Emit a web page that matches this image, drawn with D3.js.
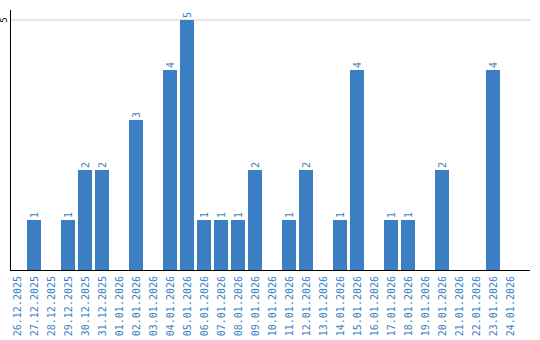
<!DOCTYPE html>
<html>
<head>
<meta charset="utf-8">
<script src="https://cdn.jsdelivr.net/npm/d3@7"></script>
<style>
  body { margin: 0; background: #fff; }
  text { font-family: "DejaVu Sans Mono", monospace; }
</style>
</head>
<body>
<div id="chart"></div>
<script>
var dates = ["26.12.2025", "27.12.2025", "28.12.2025", "29.12.2025", "30.12.2025", "31.12.2025",
  "01.01.2026", "02.01.2026", "03.01.2026", "04.01.2026", "05.01.2026", "06.01.2026",
  "07.01.2026", "08.01.2026", "09.01.2026", "10.01.2026", "11.01.2026", "12.01.2026",
  "13.01.2026", "14.01.2026", "15.01.2026", "16.01.2026", "17.01.2026", "18.01.2026",
  "19.01.2026", "20.01.2026", "21.01.2026", "22.01.2026", "23.01.2026", "24.01.2026"];
var counts = [0, 1, 0, 1, 2, 2, 0, 3, 0, 4, 5, 1, 1, 1, 2, 0, 1, 2, 0, 1, 4, 0, 1, 1, 0, 2, 0, 0, 4, 0];
var yTicks = [5];

var svgWidth = 540;
var svgHeight = 340;
var blue = "#3b7ec3";

var data = dates.map(function(d, i) { return { date: d, value: counts[i] }; });

var svg = d3.select("#chart")
  .append("svg")
  .attr("width", svgWidth)
  .attr("height", svgHeight);

var xScale = d3.scaleBand()
  .domain(dates)
  .range([10, 517])
  .paddingInner(3 / 17)
  .paddingOuter(0);

var yScale = d3.scaleLinear()
  .domain([0, 5])
  .range([270, 20]);

// gridline + y label
yTicks.forEach(function(t) {
  svg.append("line")
    .attr("x1", 11).attr("x2", 531)
    .attr("y1", yScale(t)).attr("y2", yScale(t))
    .attr("stroke", "#cccccc")
    .attr("stroke-width", 1);
  svg.append("text")
    .attr("transform", "translate(4," + yScale(t) + ") rotate(-90)")
    .attr("text-anchor", "middle")
    .attr("dy", "0.35em")
    .attr("font-size", "9px")
    .attr("fill", "#000")
    .text(t);
});

// bars
svg.selectAll("rect.bar")
  .data(data.filter(function(d) { return d.value > 0; }))
  .enter()
  .append("rect")
  .attr("class", "bar")
  .attr("x", function(d) { return xScale(d.date); })
  .attr("y", function(d) { return yScale(d.value); })
  .attr("width", xScale.bandwidth())
  .attr("height", function(d) { return yScale(0) - yScale(d.value); })
  .attr("fill", blue);

// value labels
svg.selectAll("text.val")
  .data(data.filter(function(d) { return d.value > 0; }))
  .enter()
  .append("text")
  .attr("class", "val")
  .attr("transform", function(d) {
    return "translate(" + (xScale(d.date) + xScale.bandwidth() / 2) + "," + (yScale(d.value) - 2) + ") rotate(-90)";
  })
  .attr("dy", "0.35em")
  .attr("font-size", "10px")
  .attr("fill", blue)
  .text(function(d) { return d.value; });

// axes lines
svg.append("line")
  .attr("x1", 10.5).attr("x2", 10.5)
  .attr("y1", 10).attr("y2", 270)
  .attr("stroke", "#000");
svg.append("line")
  .attr("x1", 10).attr("x2", 530)
  .attr("y1", 270.5).attr("y2", 270.5)
  .attr("stroke", "#000");

// date labels
svg.selectAll("text.date")
  .data(dates)
  .enter()
  .append("text")
  .attr("class", "date")
  .attr("transform", function(d) {
    return "translate(" + (xScale(d) + xScale.bandwidth() / 2) + ",276) rotate(-90)";
  })
  .attr("text-anchor", "end")
  .attr("dy", "0.35em")
  .attr("font-size", "10px")
  .attr("fill", blue)
  .text(function(d) { return d; });
</script>
</body>
</html>
